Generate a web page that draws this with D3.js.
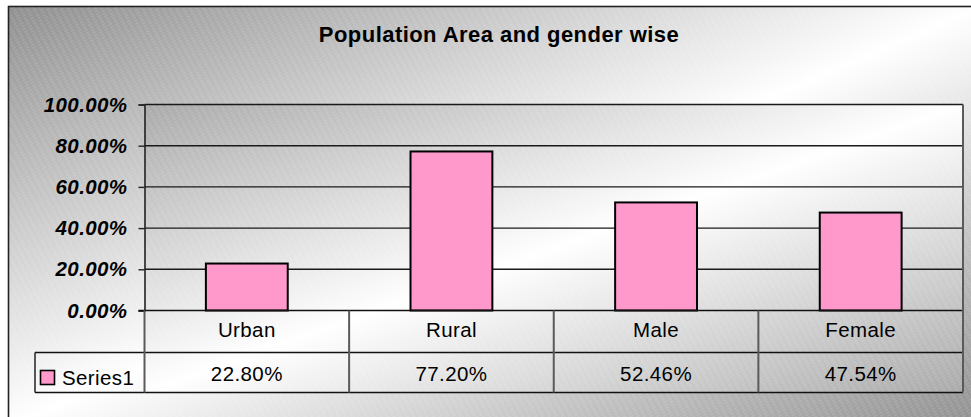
<!DOCTYPE html>
<html>
<head>
<meta charset="utf-8">
<script src="https://cdn.jsdelivr.net/npm/d3@7"></script>
<style>
    body { margin: 0; background: #fff; }
    text { font-family: "Liberation Sans", Arial, sans-serif; fill: #000; }
</style>
</head>
<body>
<div id="chart"></div>
<script>
// chart data
const categories = ["Urban", "Rural", "Male", "Female"];
const values = [22.8, 77.2, 52.46, 47.54];
const y_ticks = [0, 20, 40, 60, 80, 100];
const series_name = "Series1";
const chart_title = "Population Area and gender wise";

const svg_settings = { width: 971, height: 417 };
const plot = { left: 144.5, right: 963, top: 104.5, bottom: 310.5 };
const table = { row1: 352.5, row2: 392.5, legend_left: 35 };
const font = { size: "20.5px", spacing: "0.4px" };

const svg = d3
    .select("#chart")
    .append("svg")
    .attr("width", svg_settings.width)
    .attr("height", svg_settings.height);

const defs = svg.append("defs");

const add_gradient = (id, edge) => {
    const grad = defs
        .append("linearGradient")
        .attr("id", id)
        .attr("x1", 0).attr("y1", 0)
        .attr("x2", 1).attr("y2", 1);
    grad.append("stop").attr("offset", "0%").attr("stop-color", edge);
    grad.append("stop").attr("offset", "50%").attr("stop-color", "#ffffff");
    grad.append("stop").attr("offset", "100%").attr("stop-color", edge);
};
add_gradient("bg-grad", "#8e8e8e");
add_gradient("plot-grad", "#a9a9a9");

// fine diagonal hatching like the excel fill
const hatch = defs
    .append("pattern")
    .attr("id", "hatch")
    .attr("patternUnits", "userSpaceOnUse")
    .attr("width", 6)
    .attr("height", 3)
    .attr("patternTransform", "rotate(-28)");
hatch.append("line")
    .attr("x1", 0).attr("y1", 1).attr("x2", 4).attr("y2", 1)
    .attr("stroke", "#ffffff")
    .attr("stroke-opacity", 0.22)
    .attr("stroke-width", 1);

// background
svg.append("rect")
    .attr("x", 8).attr("y", 6)
    .attr("width", 975).attr("height", 420)
    .attr("fill", "url(#bg-grad)");
svg.append("rect")
    .attr("x", plot.left).attr("y", plot.top)
    .attr("width", plot.right - plot.left)
    .attr("height", table.row2 - plot.top)
    .attr("fill", "url(#plot-grad)");
svg.append("rect")
    .attr("x", 8).attr("y", 6)
    .attr("width", 975).attr("height", 420)
    .attr("fill", "url(#hatch)");
svg.append("rect")
    .attr("x", 8.5).attr("y", 6.5)
    .attr("width", 975).attr("height", 420)
    .attr("fill", "none")
    .attr("stroke", "#222")
    .attr("stroke-width", 1.6);

// title
svg.append("text")
    .attr("x", 499)
    .attr("y", 41.7)
    .attr("text-anchor", "middle")
    .style("font-size", "22px")
    .style("font-weight", "bold")
    .style("letter-spacing", "0.45px")
    .text(chart_title);

// scales
const x = d3.scaleBand().domain(categories).range([plot.left, plot.right]).padding(0);
const y = d3.scaleLinear().domain([0, 100]).range([plot.bottom, plot.top]);
const bar_w = x.bandwidth() * 0.4;

// gridlines
svg.append("g")
    .selectAll("line")
    .data(y_ticks.filter((d) => d > 0))
    .join("line")
    .attr("x1", plot.left).attr("x2", plot.right)
    .attr("y1", (d) => y(d)).attr("y2", (d) => y(d))
    .attr("stroke", "#1a1a1a")
    .attr("stroke-width", 1.4);

// y axis
const y_axis = svg
    .append("g")
    .attr("transform", `translate(${plot.left},0)`)
    .call(
        d3.axisLeft(y)
            .tickValues(y_ticks)
            .tickSize(6)
            .tickPadding(11)
            .tickFormat((d) => d.toFixed(2) + "%")
    );
y_axis.select(".domain").attr("stroke", "#222").attr("stroke-width", 1.6);
y_axis.selectAll(".tick line").attr("stroke", "#222").attr("stroke-width", 1.4);
y_axis.selectAll(".tick text")
    .attr("font-family", null)
    .attr("font-size", null)
    .style("font-size", font.size)
    .style("font-weight", "bold")
    .style("font-style", "italic")
    .style("letter-spacing", font.spacing);

// bars
svg.append("g")
    .selectAll("rect")
    .data(values)
    .join("rect")
    .attr("x", (d, i) => x(categories[i]) + (x.bandwidth() - bar_w) / 2)
    .attr("y", (d) => y(d))
    .attr("width", bar_w)
    .attr("height", (d) => y(0) - y(d))
    .attr("fill", "#ff99cc")
    .attr("stroke", "#000")
    .attr("stroke-width", 2);

// data table lines
const grid = svg.append("g");
grid.append("line")
    .attr("x1", plot.left - 6).attr("x2", plot.right)
    .attr("y1", plot.bottom).attr("y2", plot.bottom)
    .attr("stroke", "#111").attr("stroke-width", 1.6);
[table.row1, table.row2].forEach((ry) => {
    grid.append("line")
        .attr("x1", table.legend_left).attr("x2", plot.right)
        .attr("y1", ry).attr("y2", ry)
        .attr("stroke", "#111").attr("stroke-width", 1.5);
});
grid.append("line")
    .attr("x1", table.legend_left).attr("x2", table.legend_left)
    .attr("y1", table.row1).attr("y2", table.row2)
    .attr("stroke", "#222").attr("stroke-width", 1.5);
grid.selectAll(".col")
    .data(categories.map((c) => x(c)).concat([plot.right]))
    .join("line")
    .attr("class", "col")
    .attr("x1", (d) => d).attr("x2", (d) => d)
    .attr("y1", (d, i) => (i == categories.length ? plot.top : plot.bottom))
    .attr("y2", table.row2)
    .attr("stroke", "#5a5a5a")
    .attr("stroke-width", 2);

// category labels and values
svg.append("g")
    .selectAll("text")
    .data(categories)
    .join("text")
    .attr("x", (d) => x(d) + x.bandwidth() / 2)
    .attr("y", 336.5)
    .attr("text-anchor", "middle")
    .style("font-size", font.size)
    .style("letter-spacing", font.spacing)
    .text((d) => d);

svg.append("g")
    .selectAll("text")
    .data(values)
    .join("text")
    .attr("x", (d, i) => x(categories[i]) + x.bandwidth() / 2)
    .attr("y", 381)
    .attr("text-anchor", "middle")
    .style("font-size", font.size)
    .style("letter-spacing", font.spacing)
    .text((d) => d.toFixed(2) + "%");

// legend key
svg.append("rect")
    .attr("x", 40.5).attr("y", 370.5)
    .attr("width", 14).attr("height", 14)
    .attr("fill", "#ff99cc")
    .attr("stroke", "#000")
    .attr("stroke-width", 1.6);
svg.append("text")
    .attr("x", 62)
    .attr("y", 384.5)
    .style("font-size", font.size)
    .style("letter-spacing", font.spacing)
    .text(series_name);
</script>
</body>
</html>
